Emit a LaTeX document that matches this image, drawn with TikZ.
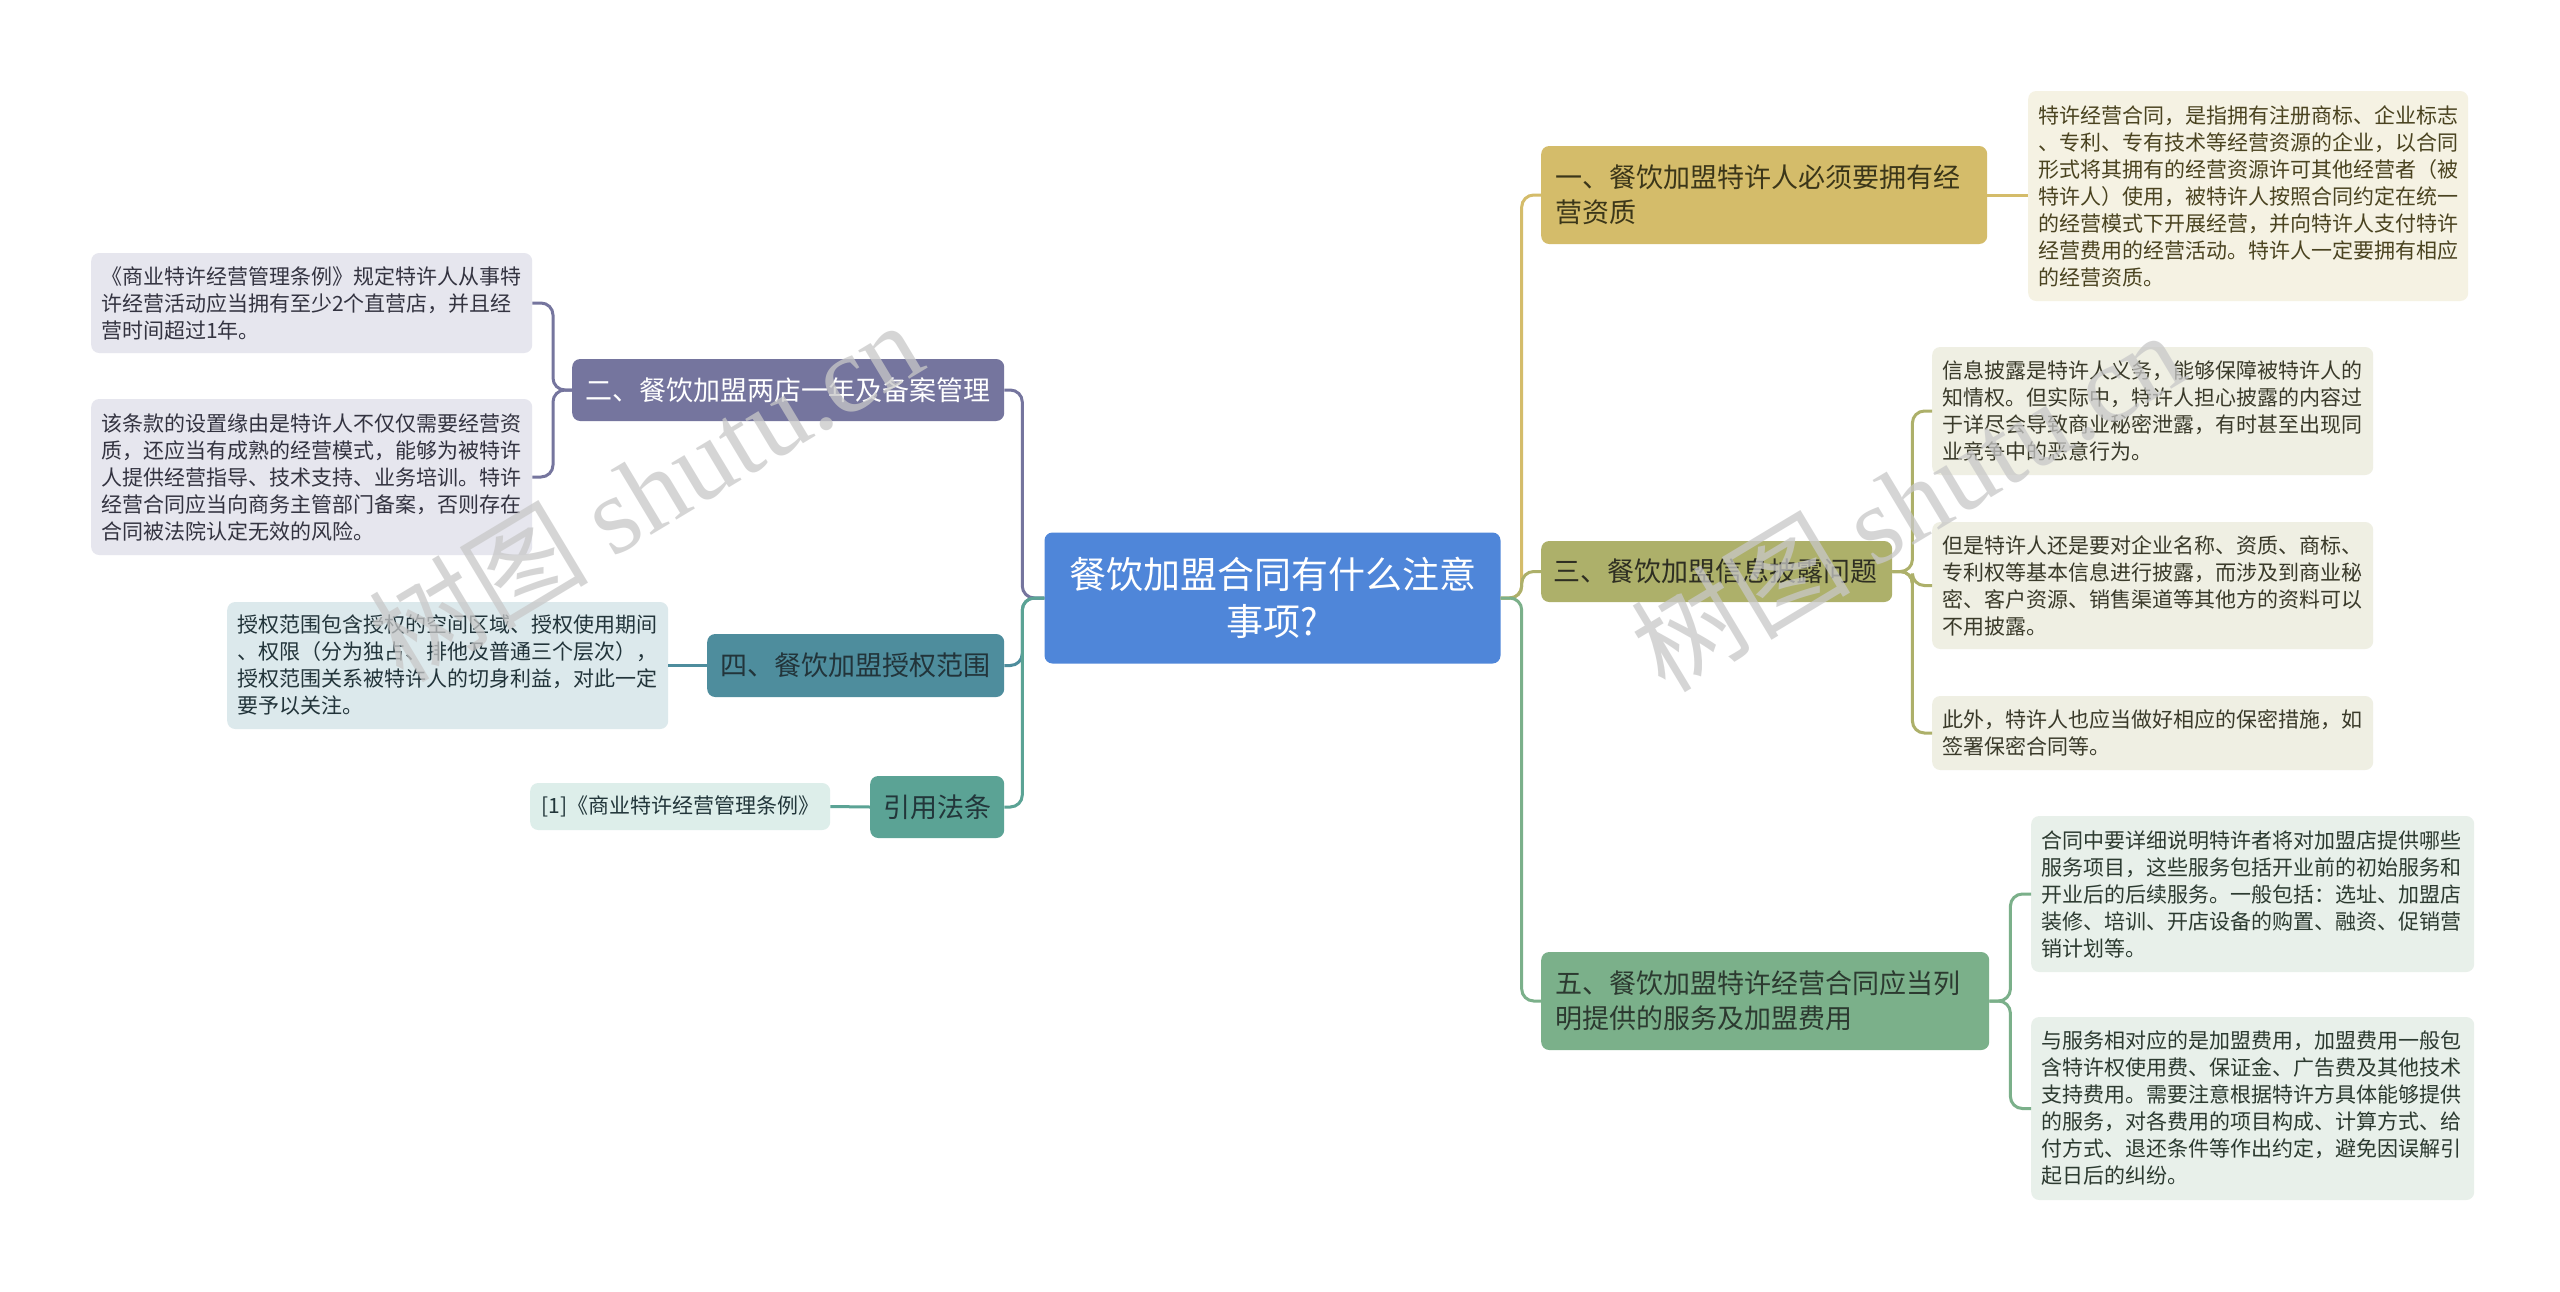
\documentclass[tikz,border=0pt]{standalone}
\usepackage{fontspec}
\setmainfont{Noto Sans CJK SC}
\newfontfamily\wmserif{Liberation Serif}
\newfontfamily\wmcjk{Noto Sans CJK SC}
\definecolor{cblue}{HTML}{4F86D9}
\definecolor{cgold}{HTML}{D4BC6A}
\definecolor{lgold}{HTML}{F5F2E3}
\definecolor{tgold}{HTML}{4A4320}
\definecolor{colive}{HTML}{ADB06A}
\definecolor{lolive}{HTML}{EFEFE3}
\definecolor{tolive}{HTML}{3A3A2A}
\definecolor{cgreen}{HTML}{7BB08A}
\definecolor{lgreen}{HTML}{E8F0EA}
\definecolor{tgreen}{HTML}{2C3A30}
\definecolor{cpurple}{HTML}{75759E}
\definecolor{lpurple}{HTML}{E6E6EE}
\definecolor{tpurple}{HTML}{333340}
\definecolor{cteal}{HTML}{4E8D9D}
\definecolor{lteal}{HTML}{DCE9EC}
\definecolor{tteal}{HTML}{22343A}
\definecolor{cref}{HTML}{5BA395}
\definecolor{lref}{HTML}{DDEEEA}
\definecolor{tref}{HTML}{22363A}
\definecolor{wmgray}{HTML}{C8C8C8}
\begin{document}
\begin{tikzpicture}[x=1pt,y=-1pt,
  leaf/.style={rounded corners=8pt, inner xsep=10pt, inner ysep=0pt, align=left,
    font=\fontsize{21}{27}\selectfont, anchor=west},
  branch/.style={rounded corners=8pt, inner ysep=0pt, align=left,
    font=\fontsize{27}{35}\selectfont, anchor=west},
  conn/.style={line width=3pt, rounded corners=12pt},
  wm/.style={font=\fontsize{110}{110}\selectfont, text=wmgray, text opacity=0.75, inner sep=0pt}
]
\useasboundingbox[fill=white] (0,0) rectangle (2560,1291);

% central
\node[fill=cblue, text=white, rounded corners=8pt, minimum width=456pt, minimum height=131pt,
  align=center, font=\fontsize{37}{47}\selectfont, inner sep=0pt] (c) at (1272.5,598)
  {餐饮加盟合同有什么注意\\事项?};

% branches
\node[branch, fill=cgold, text=tgold!80!black, inner xsep=14pt, text width=418pt, minimum height=98pt] (b1) at (1541,195)
  {一、餐饮加盟特许人必须要拥有经\\营资质};
\node[branch, fill=cpurple, text=white, inner xsep=13pt, text width=406pt, minimum height=62pt] (b2) at (572,390)
  {二、餐饮加盟两店一年及备案管理};
\node[branch, fill=colive, text=tolive!80!black, inner xsep=12pt, text width=327pt, minimum height=61pt] (b3) at (1541,571.5)
  {三、餐饮加盟信息披露问题};
\node[branch, fill=cteal, text=tteal, inner xsep=13.5pt, text width=270pt, minimum height=63pt] (b4) at (707,665.5)
  {四、餐饮加盟授权范围};
\node[branch, fill=cref, text=tref, inner xsep=13pt, text width=108pt, minimum height=62pt, align=center] (ref) at (870,807)
  {引用法条};
\node[branch, fill=cgreen, text=tgreen, inner xsep=14pt, text width=420pt, minimum height=98pt] (b5) at (1541,1001)
  {五、餐饮加盟特许经营合同应当列\\明提供的服务及加盟费用};

% leaves
\node[leaf, fill=lgold, text=tgold, text width=420pt, minimum height=210pt] (l1) at (2028,196)
  {特许经营合同，是指拥有注册商标、企业标志\\、专利、专有技术等经营资源的企业，以合同\\形式将其拥有的经营资源许可其他经营者（被\\特许人）使用，被特许人按照合同约定在统一\\的经营模式下开展经营，并向特许人支付特许\\经营费用的经营活动。特许人一定要拥有相应\\的经营资质。};

\node[leaf, fill=lpurple, text=tpurple, text width=421pt, minimum height=100pt] (l2a) at (91,303)
  {《商业特许经营管理条例》规定特许人从事特\\许经营活动应当拥有至少2个直营店，并且经\\营时间超过1年。};
\node[leaf, fill=lpurple, text=tpurple, text width=421pt, minimum height=156pt] (l2b) at (91,477)
  {该条款的设置缘由是特许人不仅仅需要经营资\\质，还应当有成熟的经营模式，能够为被特许\\人提供经营指导、技术支持、业务培训。特许\\经营合同应当向商务主管部门备案，否则存在\\合同被法院认定无效的风险。};

\node[leaf, fill=lolive, text=tolive, text width=421pt, minimum height=128pt] (l3a) at (1932,411)
  {信息披露是特许人义务，能够保障被特许人的\\知情权。但实际中，特许人担心披露的内容过\\于详尽会导致商业秘密泄露，有时甚至出现同\\业竞争中的恶意行为。};
\node[leaf, fill=lolive, text=tolive, text width=421pt, minimum height=127pt] (l3b) at (1932,585.5)
  {但是特许人还是要对企业名称、资质、商标、\\专利权等基本信息进行披露，而涉及到商业秘\\密、客户资源、销售渠道等其他方的资料可以\\不用披露。};
\node[leaf, fill=lolive, text=tolive, text width=421pt, minimum height=74pt] (l3c) at (1932,733)
  {此外，特许人也应当做好相应的保密措施，如\\签署保密合同等。};

\node[leaf, fill=lteal, text=tteal, text width=421pt, minimum height=127pt] (l4) at (227,665.5)
  {授权范围包含授权的空间区域、授权使用期间\\、权限（分为独占、排他及普通三个层次），\\授权范围关系被特许人的切身利益，对此一定\\要予以关注。};

\node[leaf, fill=lref, text=tref, text width=280pt, minimum height=47pt, align=center] (lr) at (530,806.5)
  {[1]《商业特许经营管理条例》};

\node[leaf, fill=lgreen, text=tgreen, text width=423pt, minimum height=156pt] (l5a) at (2031,894)
  {合同中要详细说明特许者将对加盟店提供哪些\\服务项目，这些服务包括开业前的初始服务和\\开业后的后续服务。一般包括：选址、加盟店\\装修、培训、开店设备的购置、融资、促销营\\销计划等。};
\node[leaf, fill=lgreen, text=tgreen, text width=423pt, minimum height=183pt] (l5b) at (2031,1108.5)
  {与服务相对应的是加盟费用，加盟费用一般包\\含特许权使用费、保证金、广告费及其他技术\\支持费用。需要注意根据特许方具体能够提供\\的服务，对各费用的项目构成、计算方式、给\\付方式、退还条件等作出约定，避免因误解引\\起日后的纠纷。};

% central connectors
\draw[conn, cpurple] (c.west) -- ++(-22,0) |- (b2.east);
\draw[conn, cteal] (c.west) -- ++(-22,0) |- (b4.east);
\draw[conn, cref] (c.west) -- ++(-22,0) |- (ref.east);
\draw[conn, cgold] (c.east) -- ++(21,0) |- (b1.west);
\draw[conn, colive] (c.east) -- ++(21,0) |- (b3.west);
\draw[conn, cgreen] (c.east) -- ++(21,0) |- (b5.west);

% leaf connectors
\draw[conn, cgold] (b1.east) -- (b1.east -| l1.west);
\draw[conn, cpurple] (b2.west) -- ++(-19,0) |- (l2a.east);
\draw[conn, cpurple] (b2.west) -- ++(-19,0) |- (l2b.east);
\draw[conn, colive] (b3.east) -- ++(20,0) |- (l3a.west);
\draw[conn, colive] (b3.east) -- ++(20,0) |- (l3b.west);
\draw[conn, colive] (b3.east) -- ++(20,0) |- (l3c.west);
\draw[conn, cteal] (b4.west) -- (l4.east);
\draw[conn, cref] (ref.west) -- (lr.east);
\draw[conn, cgreen] (b5.east) -- ++(21,0) |- (l5a.west);
\draw[conn, cgreen] (b5.east) -- ++(21,0) |- (l5b.west);

% watermarks
\node[wm, rotate=31] (wm1) at (645,490) {{\wmcjk 树图} {\wmserif shutu.cn}};
\node[wm, rotate=31] (wm2) at (1907,500) {{\wmcjk 树图} {\wmserif shutu.cn}};
\end{tikzpicture}
\end{document}
